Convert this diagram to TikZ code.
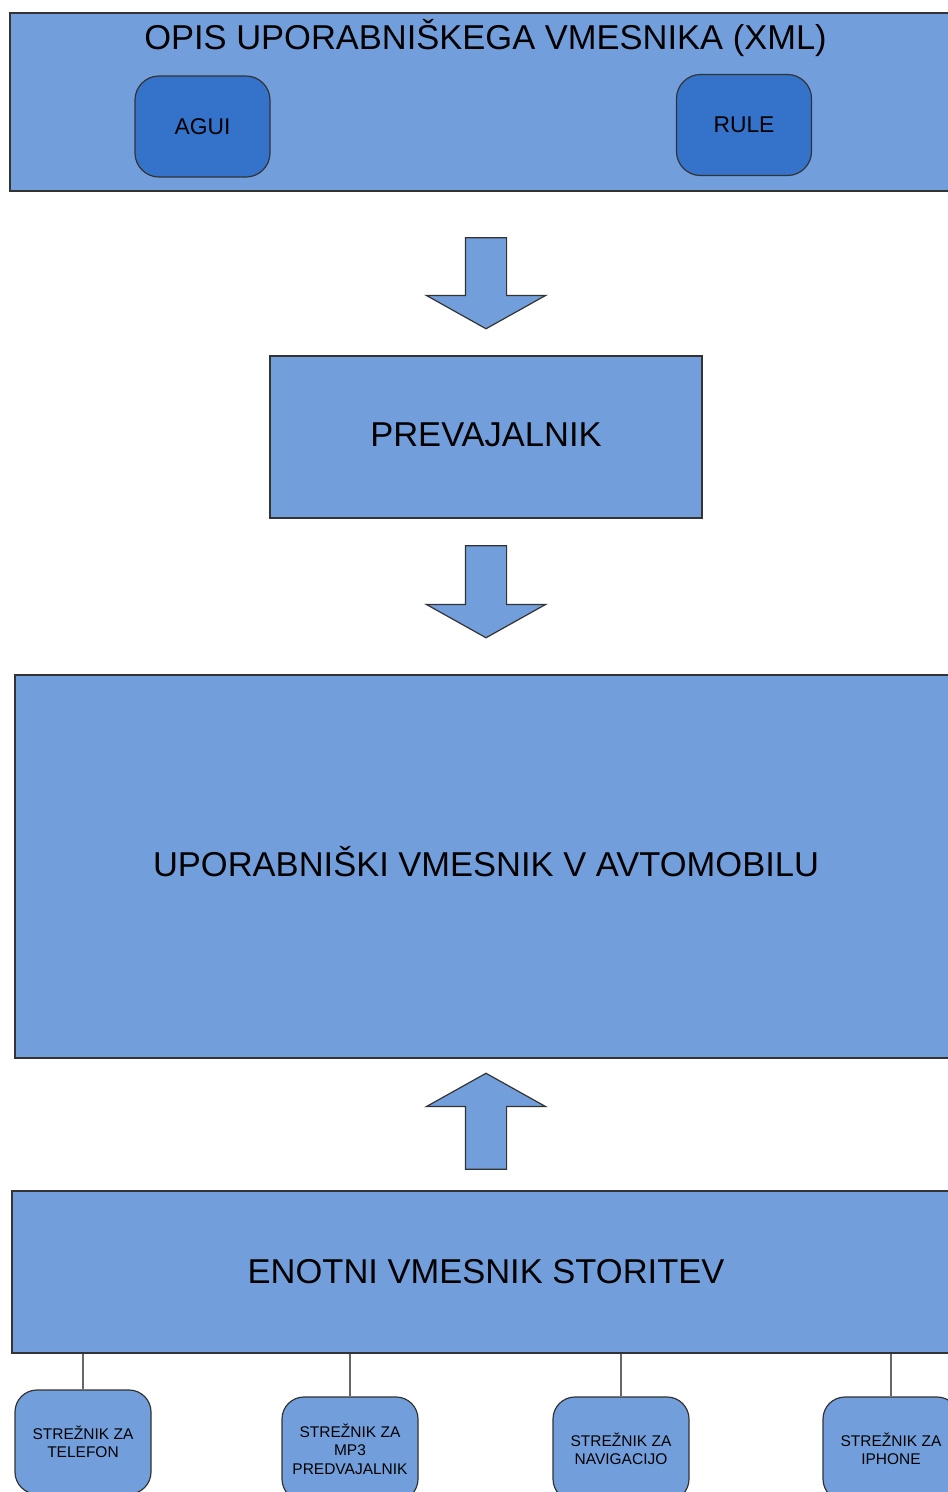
\documentclass[tikz,border=0pt]{standalone}
\usepackage{fontspec}
\setmainfont{Liberation Sans}
\usetikzlibrary{positioning, shapes.arrows}
\definecolor{panelblue}{HTML}{729FDB}
\definecolor{moduleblue}{HTML}{3473C9}
\definecolor{edgegray}{HTML}{333333}
\definecolor{wiregray}{HTML}{666666}

\begin{document}
\begin{tikzpicture}[x=1pt, y=1pt,
  panel/.style={rectangle, draw=edgegray, line width=1.3pt, fill=panelblue, inner sep=0pt, font=\fontsize{34.5}{41}\selectfont},
  module/.style={rectangle, rounded corners=24pt, draw=edgegray, line width=1.2pt, fill=moduleblue, minimum width=135pt, minimum height=101pt, font=\fontsize{22.8}{27}\selectfont},
  server/.style={rectangle, rounded corners=22pt, draw=edgegray, line width=1.2pt, fill=panelblue, minimum width=136pt, minimum height=104pt, align=center, inner sep=0pt, font=\fontsize{15.5}{18.5}\selectfont},
  bigarrow/.style={single arrow, draw=edgegray, line width=1.2pt, fill=panelblue, inner xsep=0pt, inner ysep=20pt, single arrow head extend=39pt, single arrow tip angle=121.6},
  wire/.style={draw=wiregray, line width=1.5pt}
]
  \useasboundingbox (0,0) rectangle (948,-1492);
  \clip (0,0) rectangle (948,-1492);

  % opis vmesnika
  \node[panel, minimum width=951pt, minimum height=178pt] (xml) at (485.5,-102) {};
  \node[font=\fontsize{34.5}{41}\selectfont, inner sep=0pt] (xmltitle) at (485.5,-38) {OPIS UPORABNIŠKEGA VMESNIKA (XML)};
  \node[module] (agui) at (202.5,-126.5) {AGUI};
  \node[module] (rule) at (744,-125) {RULE};

  \node[bigarrow, rotate=-90, minimum height=91pt] (a1) at (486,-277.5) {};

  \node[panel, minimum width=432pt, minimum height=162pt] (prev) at (486,-437) {\raisebox{4pt}{PREVAJALNIK}};

  \node[bigarrow, rotate=-90, minimum height=92pt] (a2) at (486,-586) {};

  \node[panel, minimum width=942pt, minimum height=383pt] (avto) at (486,-866.5) {\raisebox{10pt}{UPORABNIŠKI VMESNIK V AVTOMOBILU}};

  \node[bigarrow, rotate=90, minimum height=96pt] (a3) at (486,-1127) {};

  \node[panel, minimum width=948pt, minimum height=162pt] (enotni) at (486,-1272) {\raisebox{2pt}{ENOTNI VMESNIK STORITEV}};

  % strezniki
  \foreach \x/\y/\name/\txt in {83/-1442/tel/{STREŽNIK ZA\\TELEFON},
                                 350/-1449/mp3/{STREŽNIK ZA\\MP3\\PREDVAJALNIK},
                                 621/-1449/nav/{STREŽNIK ZA\\NAVIGACIJO},
                                 891/-1449/iph/{STREŽNIK ZA\\IPHONE}} {
    \node[server] (srv-\name) at (\x,\y) {\txt};
    \draw[wire] (srv-\name.north) -- (enotni.south -| srv-\name.north);
  }
\end{tikzpicture}
\end{document}
